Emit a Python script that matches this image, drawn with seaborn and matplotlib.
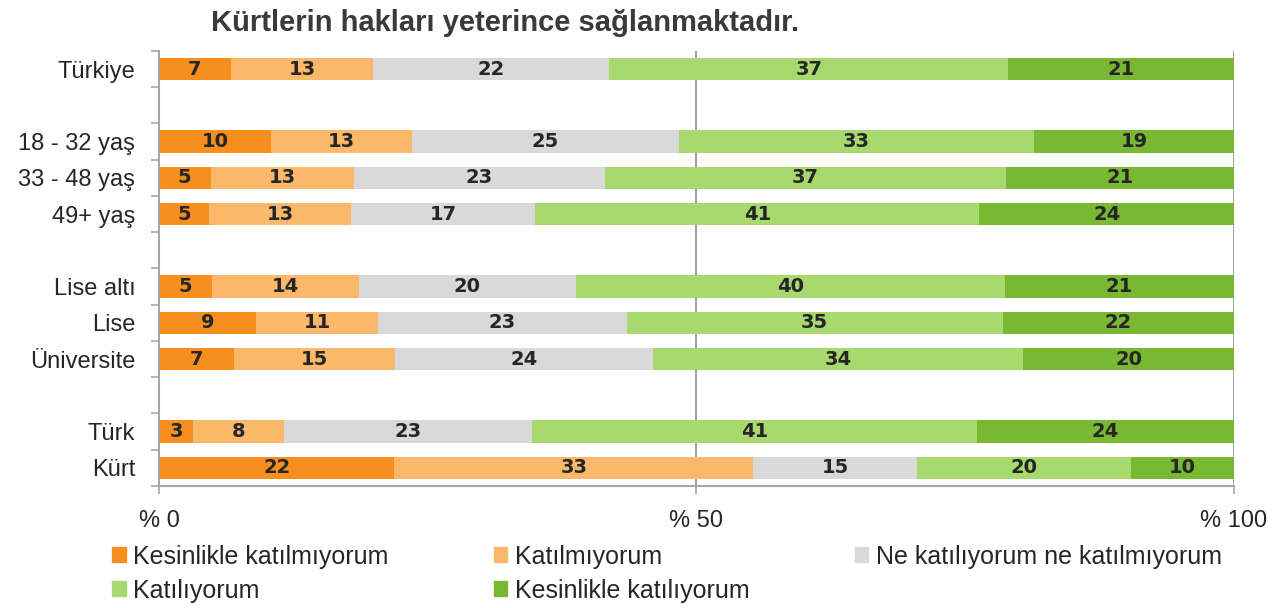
import matplotlib

matplotlib.use("agg")
import matplotlib.pyplot as plt
import matplotlib.patches as mpatches
from matplotlib.ticker import FixedLocator
import pandas as pd
import seaborn as sns

# data (percent shares, one value per row)
rows = ["Türkiye", " ", "18 - 32 yaş", "33 - 48 yaş", "49+ yaş", "  ",
        "Lise altı", "Lise", "Üniversite", "   ", "Türk", "Kürt"]
answers = ["Kesinlikle katılmıyorum", "Katılmıyorum",
           "Ne katılıyorum ne katılmıyorum", "Katılıyorum",
           "Kesinlikle katılıyorum"]
strongly_disagree = [6.7, 0, 10.4, 4.8, 4.7, 0, 4.9, 9.0, 7.0, 0, 3.2, 21.9]
disagree = [13.2, 0, 13.1, 13.3, 13.2, 0, 13.7, 11.4, 15.0, 0, 8.4, 33.4]
neutral = [22.0, 0, 24.9, 23.4, 17.1, 0, 20.2, 23.1, 24.0, 0, 23.1, 15.2]
agree = [37.1, 0, 33.0, 37.3, 41.3, 0, 39.9, 35.0, 34.4, 0, 41.4, 19.9]
strongly_agree = [21.0, 0, 18.6, 21.2, 23.7, 0, 21.3, 21.5, 19.6, 0, 23.9, 9.6]
xtick_values = [0, 50, 100]
xtick_labels = ["% 0", "% 50", "% 100"]
colors = ["#F78F1E", "#FBB76A", "#D9D9D9", "#A8D96F", "#78B833"]

df = pd.DataFrame({"row": rows})
series = [strongly_disagree, disagree, neutral, agree, strongly_agree]
for name, vals in zip(answers, series):
    df[name] = vals
cum = df[answers].cumsum(axis=1)

sns.set_style("white")
plt.rcParams["font.family"] = ["Liberation Sans", "DejaVu Sans"]
fig = plt.figure(figsize=(12.88, 6.08), dpi=100)
ax = fig.add_axes([0.1234, 0.2007, 0.8347, 0.7155])

# stacked bars: draw cumulative totals from the last answer to the first
for name, color in reversed(list(zip(answers, colors))):
    sns.barplot(data=cum, x=name, y=df["row"], order=rows, color=color,
                saturation=1, width=0.62, linewidth=0, ax=ax, zorder=2)

# value labels in the middle of each segment
for i, r in df.iterrows():
    for name in answers:
        v = r[name]
        if v <= 0:
            continue
        ax.text(cum.loc[i, name] - v / 2, i, f"{v:.0f}", ha="center",
                va="center", fontsize=14, fontweight="bold",
                family="DejaVu Sans", color="#262626", zorder=3)

ax.set_xlim(0, 100)
ax.set_ylim(len(rows) - 0.5, -0.5)
ax.set_xlabel("")
ax.set_ylabel("")
ax.set_xticks(xtick_values, labels=xtick_labels)
ax.yaxis.set_minor_locator(FixedLocator([i - 0.5 for i in range(len(rows) + 1)]))
ax.tick_params(axis="y", which="major", length=0, pad=17, labelsize=17,
               labelcolor="#262626")
ax.tick_params(axis="y", which="minor", left=True, length=6, width=1.2,
               color="#A6A6A6")
ax.tick_params(axis="x", which="major", bottom=True, length=6, width=1.2,
               color="#A6A6A6", pad=11, labelsize=17, labelcolor="#262626")
ax.grid(axis="x", color="#8C8C8C", linewidth=1.2, zorder=1)
ax.grid(axis="y", visible=False)
sns.despine(ax=ax, top=True, right=True)
for side in ["left", "bottom"]:
    ax.spines[side].set_color("#A6A6A6")
    ax.spines[side].set_linewidth(1.5)

fig.text(0.392, 0.962, "Kürtlerin hakları yeterince sağlanmaktadır.",
         ha="center", va="center", fontsize=21, fontweight="bold",
         color="#3A3A3A")

handles = [mpatches.Patch(color=c, label=a) for a, c in zip(answers, colors)]
order = [0, 3, 1, 4, 2]
fig.legend([handles[k] for k in order], [answers[k] for k in order],
           ncol=3, loc="upper left", bbox_to_anchor=(0.087, 0.104),
           frameon=False, fontsize=18, handlelength=0.55, handleheight=0.55,
           handletextpad=0.3, columnspacing=4.2, labelspacing=0.4,
           borderpad=0, borderaxespad=0, labelcolor="#262626")

fig.savefig("out.png", dpi=100)
